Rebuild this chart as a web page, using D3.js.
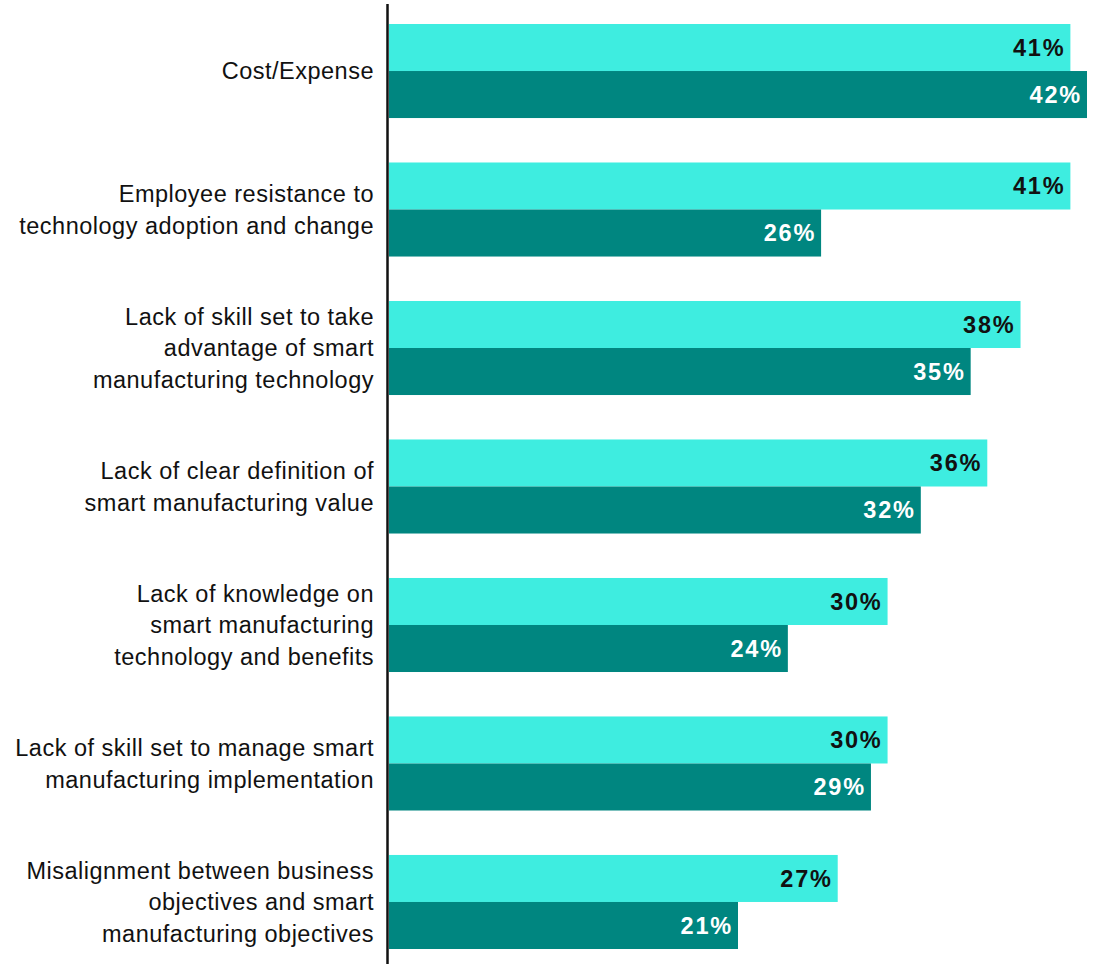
<!DOCTYPE html>
<html>
<head>
<meta charset="utf-8">
<script src="https://cdn.jsdelivr.net/npm/d3@7"></script>
<style>
  html, body { margin: 0; padding: 0; background: #ffffff; }
  svg { display: block; }
</style>
</head>
<body>
<div id="chart"></div>
<script>
// Barriers to smart manufacturing adoption, two survey series per category
const categories = [
  ["Cost/Expense"],
  ["Employee resistance to", "technology adoption and change"],
  ["Lack of skill set to take", "advantage of smart", "manufacturing technology"],
  ["Lack of clear definition of", "smart manufacturing value"],
  ["Lack of knowledge on", "smart manufacturing", "technology and benefits"],
  ["Lack of skill set to manage smart", "manufacturing implementation"],
  ["Misalignment between business", "objectives and smart", "manufacturing objectives"]
];
const seriesLight = [41, 41, 38, 36, 30, 30, 27];
const seriesDark  = [42, 26, 35, 32, 24, 29, 21];

const W = 1110, H = 964;
const axisX = 389;

const svg = d3.select("#chart").append("svg")
  .attr("width", W).attr("height", H);

const idx = d3.range(categories.length);

const y = d3.scaleBand()
  .domain(idx)
  .range([24, 949])
  .paddingInner(0.321)
  .paddingOuter(0);

const x = d3.scaleLinear()
  .domain([0, 42])
  .range([axisX, 1087]);

const half = y.bandwidth() / 2;

const groups = svg.selectAll("g.cat")
  .data(idx)
  .join("g")
  .attr("class", "cat")
  .attr("transform", i => `translate(0,${y(i)})`);

// light series (top bar)
groups.append("rect")
  .attr("x", x(0))
  .attr("y", 0)
  .attr("width", i => x(seriesLight[i]) - x(0))
  .attr("height", half)
  .attr("fill", "#3eede0");

// dark series (bottom bar)
groups.append("rect")
  .attr("x", x(0))
  .attr("y", half)
  .attr("width", i => x(seriesDark[i]) - x(0))
  .attr("height", half)
  .attr("fill", "#008680");

const fontStack = "'Liberation Sans', Arial, Helvetica, sans-serif";

groups.append("text")
  .attr("x", i => x(seriesLight[i]) - 5)
  .attr("y", half / 2)
  .attr("dy", "0.36em")
  .attr("text-anchor", "end")
  .style("font-family", fontStack)
  .style("font-weight", "bold")
  .style("font-size", "23.5px")
  .style("letter-spacing", "1.8px")
  .attr("fill", "#111111")
  .text(i => seriesLight[i] + "%");

groups.append("text")
  .attr("x", i => x(seriesDark[i]) - 5)
  .attr("y", half + half / 2)
  .attr("dy", "0.36em")
  .attr("text-anchor", "end")
  .style("font-family", fontStack)
  .style("font-weight", "bold")
  .style("font-size", "23.5px")
  .style("letter-spacing", "1.8px")
  .attr("fill", "#ffffff")
  .text(i => seriesDark[i] + "%");

// category labels, right-aligned against the axis
const lineH = 31.5;
groups.append("text")
  .attr("text-anchor", "end")
  .style("font-family", fontStack)
  .style("font-size", "23.5px")
  .style("letter-spacing", "0.5px")
  .attr("fill", "#111111")
  .each(function(i) {
    const lines = categories[i];
    const t = d3.select(this);
    const y0 = half - (lines.length - 1) * lineH / 2;
    lines.forEach((ln, k) => {
      t.append("tspan")
        .attr("x", 374)
        .attr("y", y0 + k * lineH)
        .attr("dy", "0.36em")
        .text(ln);
    });
  });

// vertical axis line
svg.append("line")
  .attr("x1", axisX - 1.5).attr("x2", axisX - 1.5)
  .attr("y1", 4).attr("y2", H)
  .attr("stroke", "#111111")
  .attr("stroke-width", 2.5);
</script>
</body>
</html>
